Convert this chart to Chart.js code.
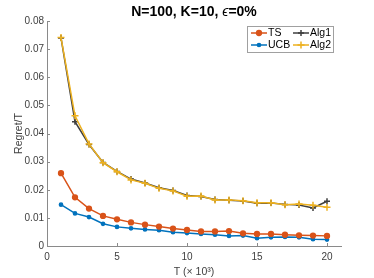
<!DOCTYPE html>
<html>
<head>
<meta charset="utf-8">
<script src="https://cdn.jsdelivr.net/npm/chart.js@4/dist/chart.umd.min.js"></script>
<style>
  html, body { margin: 0; padding: 0; background: #fff; }
  #wrap { width: 374px; height: 278px; position: relative; }
</style>
</head>
<body>
<div id="wrap"><canvas id="myChart" width="374" height="278"></canvas></div>
<script>
// horizon T in thousands
const tValues = [1, 2, 3, 4, 5, 6, 7, 8, 9, 10, 11, 12, 13, 14, 15, 16, 17, 18, 19, 20];
const tsRegret = [0.0259, 0.0173, 0.0133, 0.0107, 0.0095, 0.0084, 0.0076, 0.0069, 0.0062, 0.0057,
  0.0052, 0.0052, 0.0053, 0.0045, 0.0043, 0.0043, 0.0040, 0.0038, 0.0037, 0.0036];
const ucbRegret = [0.0147, 0.0116, 0.0103, 0.0079, 0.0068, 0.0063, 0.0059, 0.0056, 0.0049, 0.0046,
  0.0043, 0.0040, 0.0036, 0.0037, 0.0028, 0.0031, 0.0032, 0.0031, 0.0024, 0.0023];
const alg1Regret = [0.0740, 0.0442, 0.0361, 0.0297, 0.0265, 0.0238, 0.0224, 0.0207, 0.0197, 0.0180,
  0.0176, 0.0165, 0.0163, 0.0160, 0.0152, 0.0153, 0.0148, 0.0146, 0.0135, 0.0159];
const alg2Regret = [0.0741, 0.0463, 0.0363, 0.0296, 0.0264, 0.0235, 0.0223, 0.0205, 0.0196, 0.0177,
  0.0178, 0.0164, 0.0164, 0.0161, 0.0154, 0.0154, 0.0147, 0.0149, 0.0145, 0.0138];
const xTicks = [0, 5, 10, 15, 20];
const yTicks = [0, 0.01, 0.02, 0.03, 0.04, 0.05, 0.06, 0.07, 0.08];

const FONT = 'Liberation Sans, Arial, Helvetica, sans-serif';
const AXIS = '#8a8a8a';
const TEXT = '#404040';

const toPts = (vals) => tValues.map((t, i) => ({ x: t, y: vals[i] }));

const makeSet = (label, vals, color, style, radius, order) => ({
  label,
  data: toPts(vals),
  borderColor: color,
  backgroundColor: color,
  pointBackgroundColor: color,
  pointBorderColor: color,
  pointStyle: style,
  pointRadius: radius,
  pointBorderWidth: 1.5,
  borderWidth: 1.5,
  tension: 0,
  order
});

// 2x2 legend box + inward ticks + title, drawn like the matlab figure
const figurePlugin = {
  id: 'figure',
  afterDraw(chart) {
    const ctx = chart.ctx;
    const area = chart.chartArea;
    const xs = chart.scales.x, ys = chart.scales.y;
    ctx.save();

    // inward ticks
    ctx.strokeStyle = AXIS;
    ctx.lineWidth = 1;
    xTicks.forEach(v => {
      const px = Math.round(xs.getPixelForValue(v)) + 0.5;
      ctx.beginPath();
      ctx.moveTo(px, area.bottom);
      ctx.lineTo(px, area.bottom - 3);
      ctx.stroke();
    });
    yTicks.forEach(v => {
      const py = Math.round(ys.getPixelForValue(v)) + 0.5;
      ctx.beginPath();
      ctx.moveTo(area.left, py);
      ctx.lineTo(area.left + 3, py);
      ctx.stroke();
    });

    // title
    ctx.fillStyle = '#000';
    ctx.textBaseline = 'middle';
    const fs = 14;
    ctx.font = 'bold ' + fs + 'px ' + FONT;
    const partA = 'N=100, K=10, ';
    const partB = 'ϵ';
    const partC = '=0%';
    const wA = ctx.measureText(partA).width;
    const wC = ctx.measureText(partC).width;
    ctx.font = 'italic ' + fs + 'px ' + FONT;
    const wB = ctx.measureText(partB).width;
    let tx = (area.left + area.right) / 2 - (wA + wB + wC) / 2;
    const ty = 12;
    ctx.font = 'bold ' + fs + 'px ' + FONT;
    ctx.textAlign = 'left';
    ctx.fillText(partA, tx, ty);
    tx += wA;
    ctx.font = 'italic ' + fs + 'px ' + FONT;
    ctx.fillText(partB, tx, ty);
    tx += wB;
    ctx.font = 'bold ' + fs + 'px ' + FONT;
    ctx.fillText(partC, tx, ty);

    // legend
    const bx = 247.5, by = 26.5, bw = 86, bh = 26;
    ctx.fillStyle = '#fff';
    ctx.fillRect(bx, by, bw, bh);
    ctx.strokeStyle = '#a0a0a0';
    ctx.lineWidth = 1;
    ctx.strokeRect(bx, by, bw, bh);
    const cells = [
      { label: 'TS', x: 251, y: 33 },
      { label: 'UCB', x: 251, y: 45 },
      { label: 'Alg1', x: 293, y: 33 },
      { label: 'Alg2', x: 293, y: 45 }
    ];
    ctx.font = '10.5px ' + FONT;
    ctx.textBaseline = 'middle';
    cells.forEach(c => {
      const d = chart.data.datasets.find(s => s.label === c.label);
      ctx.strokeStyle = d.borderColor;
      ctx.fillStyle = d.borderColor;
      ctx.lineWidth = 1.5;
      ctx.beginPath();
      ctx.moveTo(c.x, c.y);
      ctx.lineTo(c.x + 16, c.y);
      ctx.stroke();
      Chart.helpers.drawPoint(ctx, {
        pointStyle: d.pointStyle, radius: d.pointRadius, borderWidth: 1.5, rotation: 0
      }, c.x + 8, c.y);
      ctx.fillStyle = '#000';
      ctx.fillText(d.label, c.x + 17, c.y);
    });
    ctx.restore();
  }
};

Chart.defaults.font.family = FONT;

const ctx = document.getElementById('myChart');
new Chart(ctx, {
  type: 'line',
  data: {
    datasets: [
      makeSet('UCB', ucbRegret, '#0072BD', 'circle', 1.6, 4),
      makeSet('TS', tsRegret, '#D95319', 'circle', 2.4, 3),
      makeSet('Alg1', alg1Regret, '#3f3f3f', 'cross', 3, 2),
      makeSet('Alg2', alg2Regret, '#EDB120', 'cross', 3.5, 1)
    ]
  },
  options: {
    responsive: false,
    animation: false,
    layout: { padding: { top: 21, right: 33, left: 0, bottom: 0 } },
    plugins: {
      legend: { display: false },
      tooltip: { enabled: false },
      title: { display: false }
    },
    scales: {
      x: {
        type: 'linear',
        min: 0,
        max: 21,
        afterBuildTicks: (s) => { s.ticks = xTicks.map(v => ({ value: v })); },
        afterFit: (s) => { s.height = 32; },
        grid: { display: true, drawOnChartArea: false, drawTicks: false },
        border: { color: AXIS, width: 1 },
        ticks: { color: TEXT, font: { size: 10 }, padding: 5, maxRotation: 0 },
        title: { display: true, text: 'T (× 10³)', color: TEXT, font: { size: 10.5 }, padding: { top: 1, bottom: 0 } }
      },
      y: {
        type: 'linear',
        min: 0,
        max: 0.08,
        afterBuildTicks: (s) => { s.ticks = yTicks.map(v => ({ value: v })); },
        afterFit: (s) => { s.width = 47; },
        grid: { display: true, drawOnChartArea: false, drawTicks: false },
        border: { color: AXIS, width: 1 },
        ticks: {
          color: TEXT, font: { size: 10 }, padding: 3,
          callback: (v) => (v === 0 ? '0' : v.toFixed(2))
        },
        title: { display: true, text: 'Regret/T', color: TEXT, font: { size: 10.5 }, padding: { top: 13, bottom: 2 } }
      }
    }
  },
  plugins: [figurePlugin]
});
</script>
</body>
</html>
